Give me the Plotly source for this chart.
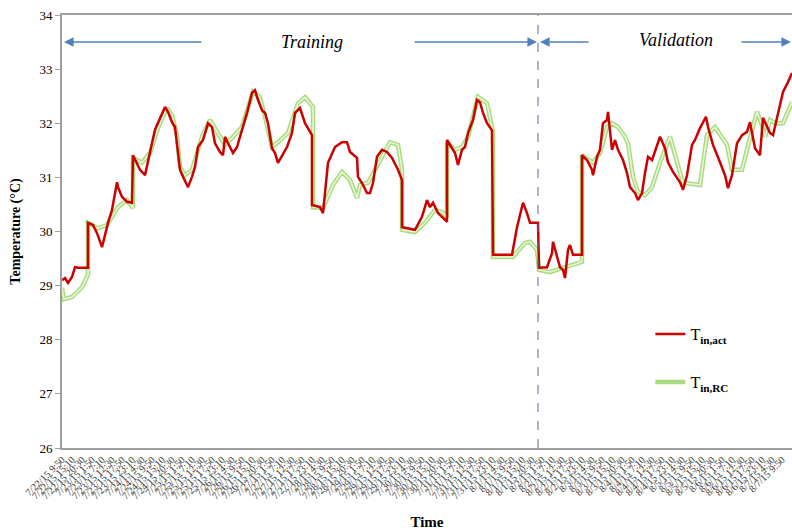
import plotly.graph_objects as go
from datetime import datetime, timedelta

# ---- data (time index, temperature in °C) ----
t_act = [0, 3, 6, 10, 13, 16, 26, 26, 31, 35, 40, 43, 46, 50, 53, 55, 56, 60, 65, 70, 71, 75, 78, 83, 86, 90,
         93, 96, 98, 103, 106, 110, 113, 116, 118, 121, 126, 130, 133, 136, 141, 146, 150, 153, 158, 161, 163,
         166, 171, 175, 180, 185, 190, 193, 196, 200, 203, 206, 210, 213, 216, 220, 225, 230, 233, 238, 243,
         250, 250, 258, 261, 266, 273, 280, 285, 288, 295, 296, 301, 305, 308, 311, 315, 320, 325, 330, 336,
         340, 340, 346, 353, 360, 365, 368, 371, 376, 381, 385, 385, 393, 396, 400, 403, 406, 411, 415, 418,
         421, 425, 430, 431, 450, 455, 461, 465, 468, 476, 477, 485, 490, 491, 495, 498, 501, 503, 506, 508,
         511, 520, 520, 525, 530, 531, 535, 538, 541, 545, 546, 548, 550, 553, 556, 561, 565, 568, 573, 576,
         580, 583, 586, 590, 593, 598, 603, 606, 611, 618, 621, 625, 630, 633, 638, 641, 644, 646, 651, 658,
         663, 666, 670, 675, 680, 685, 688, 693, 698, 701, 703, 708, 711, 716, 721, 726, 730]
temp_act = [29.10, 29.14, 29.05, 29.16, 29.34, 29.33, 29.33, 30.16, 30.12, 29.97, 29.71, 29.94, 30.16, 30.40,
            30.71, 30.91, 30.82, 30.64, 30.55, 30.53, 31.41, 31.27, 31.14, 31.04, 31.32, 31.63, 31.88, 32.00,
            32.10, 32.30, 32.21, 32.02, 31.93, 31.38, 31.14, 31.01, 30.82, 31.01, 31.19, 31.56, 31.69, 32.00,
            31.93, 31.63, 31.47, 31.41, 31.75, 31.63, 31.45, 31.56, 31.87, 32.19, 32.56, 32.61, 32.43, 32.24,
            32.19, 32.00, 31.54, 31.45, 31.27, 31.41, 31.56, 31.82, 32.19, 32.28, 32.00, 31.78, 30.49, 30.45,
            30.34, 31.27, 31.56, 31.65, 31.65, 31.47, 31.36, 31.01, 30.86, 30.71, 30.71, 30.90, 31.38, 31.51,
            31.47, 31.36, 31.14, 30.95, 30.08, 30.06, 30.03, 30.27, 30.58, 30.45, 30.53, 30.34, 30.25, 30.18,
            31.69, 31.45, 31.23, 31.51, 31.56, 31.82, 32.06, 32.43, 32.39, 32.19, 32.00, 31.87, 29.57, 29.57,
            30.08, 30.53, 30.34, 30.16, 30.16, 29.33, 29.34, 29.60, 29.81, 29.53, 29.34, 29.29, 29.14, 29.66,
            29.75, 29.57, 29.57, 31.41, 31.32, 31.14, 31.04, 31.38, 31.51, 32.00, 32.06, 32.21, 31.84, 31.51,
            31.69, 31.51, 31.32, 31.08, 30.82, 30.71, 30.58, 30.71, 31.08, 31.38, 31.32, 31.47, 31.75, 31.54,
            31.28, 31.10, 30.91, 30.77, 31.04, 31.60, 31.69, 31.91, 32.02, 32.12, 31.93, 31.60, 31.28, 31.04,
            30.80, 31.04, 31.63, 31.78, 31.84, 32.02, 31.54, 31.41, 32.10, 32.02, 31.82, 31.78, 32.19, 32.58,
            32.76, 32.93]

t_rc = [0, 2, 10, 20, 26, 26, 36, 45, 56, 65, 71, 71, 80, 88, 96, 105, 110, 115, 118, 123, 130, 140, 148,
        156, 163, 170, 180, 191, 198, 203, 210, 216, 226, 236, 243, 251, 251, 261, 271, 280, 288, 295, 298,
        306, 318, 328, 336, 340, 340, 353, 363, 373, 380, 385, 385, 393, 400, 406, 416, 425, 431, 431, 451,
        463, 468, 475, 477, 488, 501, 511, 520, 520, 531, 538, 545, 550, 556, 563, 566, 571, 576, 583, 590,
        598, 608, 615, 621, 638, 645, 653, 665, 670, 680, 688, 695, 700, 703, 708, 713, 721, 730]
temp_rc = [28.96, 28.75, 28.79, 28.97, 29.20, 30.16, 30.06, 30.12, 30.45, 30.58, 30.43, 31.36, 31.27, 31.45,
           31.91, 32.28, 32.15, 31.78, 31.19, 31.04, 31.14, 31.75, 32.06, 31.82, 31.60, 31.73, 31.93, 32.58,
           32.48, 32.12, 31.56, 31.65, 31.82, 32.37, 32.48, 32.30, 30.45, 30.43, 30.86, 31.10, 30.95, 30.62,
           30.86, 30.90, 31.32, 31.65, 31.60, 31.14, 30.03, 29.99, 30.16, 30.40, 30.36, 30.27, 31.65, 31.51,
           31.56, 31.75, 32.49, 32.37, 31.84, 29.53, 29.53, 29.79, 29.81, 29.66, 29.29, 29.25, 29.33, 29.38,
           29.44, 31.41, 31.27, 31.45, 31.93, 32.00, 31.93, 31.75, 31.63, 31.01, 30.73, 30.67, 30.82, 31.27,
           31.75, 31.28, 30.90, 30.86, 31.78, 31.93, 31.60, 31.14, 31.14, 31.73, 32.21, 31.97, 31.75, 32.06,
           32.00, 32.00, 32.39, 32.71]

split_t = 476          # boundary between training and validation
tick_vals = list(range(0, 721, 10))
start = datetime(2015, 7, 22, 9, 50)
tick_text = []
for i in range(len(tick_vals)):
    d = start + timedelta(minutes=320 * i)
    tick_text.append(f"{d.month}/{d.day}/15 {d.hour}:{d.minute:02d}")

SERIF = "Liberation Serif, Times New Roman, serif"
BLUE = "#4F81BD"

fig = go.Figure()
fig.add_trace(go.Scatter(x=t_rc, y=temp_rc, mode="lines", name="T<sub><b>in,RC</b></sub>",
                         line=dict(color="#a9dc7e", width=4.5), legend="legend2"))
fig.add_trace(go.Scatter(x=t_rc, y=temp_rc, mode="lines", showlegend=False, hoverinfo="skip",
                         line=dict(color="#eaf6dc", width=1.5)))
fig.add_trace(go.Scatter(x=t_act, y=temp_act, mode="lines", name="T<sub><b>in,act</b></sub>",
                         line=dict(color="#cc0000", width=2.5), legend="legend"))

fig.add_shape(type="line", x0=split_t, x1=split_t, y0=26, y1=34, xref="x", yref="y",
              line=dict(color="#6a5fa0", width=1, dash="dash"))

# arrows
for x_head, x_tail in [(2, 141), (475, 351), (478, 528), (729, 678)]:
    fig.add_annotation(x=x_head, y=33.5, ax=x_tail, ay=33.5, xref="x", yref="y", axref="x", ayref="y",
                       text="", showarrow=True, arrowhead=2, arrowsize=1.2, arrowwidth=1.6,
                       arrowcolor=BLUE)
fig.add_annotation(x=250, y=33.5, xref="x", yref="y", text="<i>Training</i>", showarrow=False,
                   font=dict(family=SERIF, size=18, color="black"))
fig.add_annotation(x=614, y=33.53, xref="x", yref="y", text="<i>Validation</i>", showarrow=False,
                   font=dict(family=SERIF, size=18, color="black"))

leg_common = dict(xanchor="left", yanchor="middle", bgcolor="rgba(0,0,0,0)",
                  font=dict(family=SERIF, size=16, color="black"), itemwidth=30)

fig.update_layout(
    width=792, height=532,
    margin=dict(l=62, r=0, t=15, b=84, autoexpand=False),
    plot_bgcolor="white", paper_bgcolor="white",
    font=dict(family=SERIF, color="black"),
    showlegend=True,
    legend=dict(x=0.806, y=0.263, **leg_common),
    legend2=dict(x=0.806, y=0.152, **leg_common),
    xaxis=dict(range=[0, 730], tickmode="array", tickvals=tick_vals, ticktext=tick_text,
               tickangle=-45, tickfont=dict(family=SERIF, size=10, color="#333"), automargin=False,
               showline=True, linecolor="#a0a0a0", linewidth=2, mirror=True, showgrid=False,
               zeroline=False, ticks="",
               title=dict(text="<b>Time</b>", font=dict(family=SERIF, size=15), standoff=16)),
    yaxis=dict(range=[26, 34], tickvals=list(range(26, 35)), showline=True, linecolor="#a0a0a0",
               linewidth=2, showgrid=False, zeroline=False, ticks="outside", ticklen=5, automargin=False,
               ticklabeloverflow="allow",
               tickcolor="#a0a0a0", tickfont=dict(family=SERIF, size=13, color="black"),
               title=dict(text="<b>Temperature (°C)</b>", font=dict(family=SERIF, size=14), standoff=16)),
)

fig.write_html("out.html", config={"displayModeBar": False},
               post_script="document.body.style.margin='0px';")
